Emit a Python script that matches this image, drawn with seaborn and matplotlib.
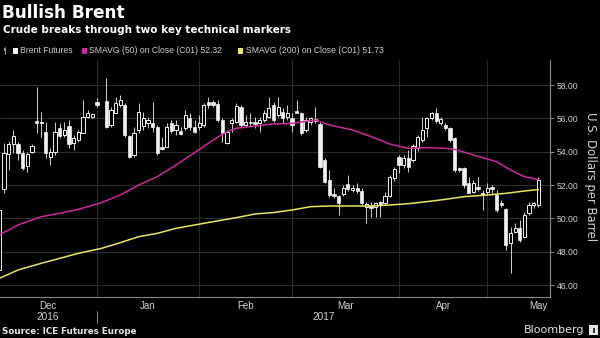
import numpy as np
import pandas as pd
import matplotlib
matplotlib.use("Agg")
import matplotlib.pyplot as plt
from matplotlib import font_manager
from matplotlib.patches import Rectangle
from matplotlib.transforms import blended_transform_factory
import seaborn as sns

nan = np.nan

# Daily ICE Brent futures sessions (session 22 is the New Year holiday, no trading)
open_px = [46.9, 51.74, 53.86, 54.46, 54.46, 53.94, 53.14, 54.0, 55.86, 55.7,
           55.2, 53.7, 54.0, 55.4, 55.0, 55.54, 54.5, 54.7, 55.14, 56.1,
           56.06, 56.98, nan, 57.06, 55.6, 56.34, 56.8, 56.8, 54.94, 53.8,
           55.3, 55.54, 55.7, 55.74, 55.5, 54.3, 54.3, 55.7, 55.3, 55.26,
           55.4, 56.0, 55.46, 55.46, 55.6, 56.96, 56.96, 56.84, 55.9, 54.5,
           55.7, 55.8, 56.7, 55.6, 55.8, 55.8, 55.74, 55.9, 56.1, 56.8,
           56.2, 56.4, 56.1, 56.04, 56.46, 56.34, 55.3, 55.8, 55.94, 55.66,
           53.5, 52.3, 51.46, 51.34, 51.46, 52.06, 51.7, 51.8, 51.66, 50.66,
           50.74, 50.7, 51.0, 50.9, 51.34, 52.4, 53.66, 53.2, 53.6, 53.5,
           54.2, 54.7, 55.4, 56.0, 56.3, 55.74, 55.6, 55.4, 54.8, 53.0,
           53.0, 52.1, 51.6, 51.86, 51.46, 51.6, 51.9, 51.4, 50.94, 50.54,
           48.5, 49.2, 49.4, 48.9, 50.3, 50.8, 50.8]
high_px = [50.6, 54.5, 54.66, 55.3, 54.6, 54.1, 54.0, 54.46, 57.9, 56.4,
           55.8, 54.2, 55.8, 55.7, 55.8, 55.9, 55.0, 55.3, 57.1, 56.5,
           56.34, 57.2, nan, 58.4, 56.7, 57.3, 57.4, 56.9, 55.0, 55.5,
           56.9, 56.4, 56.1, 57.0, 55.6, 54.9, 55.7, 55.9, 55.9, 55.5,
           56.5, 56.3, 55.9, 56.2, 56.9, 57.3, 57.1, 57.1, 56.0, 55.3,
           56.04, 56.9, 56.8, 56.2, 56.3, 56.1, 56.1, 56.5, 57.3, 57.0,
           57.3, 56.6, 56.8, 56.3, 57.1, 56.4, 56.1, 56.1, 56.7, 55.8,
           53.6, 52.9, 51.8, 51.4, 52.0, 52.6, 52.0, 52.1, 51.8, 51.0,
           51.0, 51.0, 51.06, 51.6, 52.6, 53.1, 53.8, 53.8, 54.1, 54.46,
           55.0, 56.1, 56.1, 56.4, 56.6, 56.1, 55.7, 55.5, 54.9, 53.1,
           53.1, 52.5, 52.3, 52.46, 51.7, 52.1, 52.0, 51.7, 51.1, 50.6,
           49.5, 49.7, 49.9, 50.4, 51.0, 51.0, 52.5]
low_px = [46.6, 51.5, 52.9, 53.9, 53.5, 52.9, 52.8, 53.9, 55.1, 54.9,
          53.6, 53.2, 53.8, 54.8, 54.9, 54.2, 54.1, 54.6, 55.1, 56.0,
          56.0, 56.7, nan, 55.4, 55.5, 56.3, 56.7, 54.9, 53.6, 53.7,
          55.1, 55.3, 55.4, 55.2, 53.8, 54.1, 54.26, 55.1, 55.0, 55.0,
          55.3, 55.3, 55.1, 55.3, 55.5, 56.6, 56.7, 55.8, 54.6, 54.46,
          55.2, 55.7, 55.5, 55.46, 55.54, 55.4, 55.2, 55.8, 56.0, 55.8,
          56.1, 55.7, 55.9, 55.2, 56.3, 55.0, 55.2, 55.6, 55.7, 53.0,
          52.1, 51.3, 51.2, 50.2, 51.34, 51.66, 51.6, 51.54, 50.8, 49.7,
          50.1, 50.1, 50.1, 50.8, 51.26, 52.26, 52.7, 53.0, 52.8, 53.4,
          54.06, 54.6, 54.9, 55.9, 55.7, 55.6, 55.3, 54.6, 52.8, 52.8,
          51.8, 51.5, 51.5, 51.66, 50.5, 51.4, 51.4, 50.4, 50.7, 48.1,
          46.7, 49.1, 48.6, 48.8, 50.2, 50.6, 50.7]
close_px = [50.5, 53.94, 54.46, 54.94, 53.94, 53.0, 53.86, 54.34, 55.7, 55.8,
            53.9, 54.0, 55.2, 54.94, 55.3, 54.46, 54.8, 55.2, 56.1, 56.3,
            56.24, 56.82, nan, 55.46, 56.5, 56.94, 57.1, 55.0, 53.66, 55.1,
            56.4, 56.0, 55.9, 55.5, 53.9, 54.14, 55.5, 55.24, 55.6, 55.06,
            56.2, 55.5, 55.2, 55.74, 56.8, 56.8, 56.8, 55.9, 55.1, 55.2,
            55.9, 56.74, 55.6, 55.8, 55.7, 55.66, 55.9, 56.3, 56.6, 55.9,
            56.7, 56.0, 56.34, 55.6, 56.34, 55.1, 55.9, 56.0, 55.86, 53.1,
            52.2, 51.4, 51.34, 50.9, 51.8, 51.74, 51.8, 51.66, 50.9, 50.86,
            50.6, 50.9, 50.8, 51.34, 52.46, 52.94, 53.2, 53.6, 53.1, 54.34,
            54.9, 55.3, 56.0, 56.3, 55.86, 55.94, 55.4, 54.7, 52.9, 52.9,
            52.0, 51.54, 52.1, 51.74, 51.54, 51.8, 51.74, 50.5, 50.8, 48.4,
            49.1, 49.4, 48.7, 50.2, 50.8, 50.9, 52.32]

# Simple moving averages on close, sampled along the session axis
sma50_session = [0, 4, 9, 13, 17, 22, 26, 30, 34, 38, 42, 46, 49, 51, 55, 59,
                 63, 68, 71, 76, 80, 84, 88, 92, 96, 98, 102, 107, 110, 113, 116]
sma50_value = [49.0, 49.6, 50.1, 50.3, 50.54, 50.94, 51.4, 52.0, 52.5, 53.2,
               53.94, 54.7, 55.2, 55.4, 55.54, 55.66, 55.7, 55.9, 55.6, 55.3,
               54.9, 54.46, 54.2, 54.24, 54.2, 54.14, 53.8, 53.4, 52.9, 52.5, 52.32]
sma200_session = [0, 4, 9, 13, 17, 22, 26, 30, 34, 38, 42, 46, 51, 55, 59, 63,
                  67, 71, 76, 80, 84, 88, 92, 96, 100, 105, 109, 113, 116]
sma200_value = [46.4, 46.9, 47.3, 47.6, 47.9, 48.2, 48.54, 48.9, 49.1, 49.4,
                49.6, 49.8, 50.04, 50.26, 50.35, 50.5, 50.7, 50.74, 50.74, 50.74,
                50.8, 50.88, 51.0, 51.14, 51.3, 51.4, 51.5, 51.64, 51.73]

month_edges = [0, 21, 43, 63, 86, 105, 127]
month_labels = ["Dec", "Jan", "Feb", "Mar", "Apr", "May"]
year_labels = ["2016", "2017"]
price_ticks = [46, 48, 50, 52, 54, 56, 58]

BG = "black"
CANDLE = "#f2f2f2"
WICK = "#c8c8c8"
MAGENTA = "#cc2a9c"
YELLOW = "#e9e65a"
GRID = "#2c2c2c"
SPINE = "#8a8a8a"
TEXT = "#e6e6e6"
LABEL = "#d2d2d2"

sns.set_style("dark", {"axes.facecolor": BG, "figure.facecolor": BG,
                       "grid.color": GRID, "axes.edgecolor": SPINE})
plt.rcParams["font.family"] = ["DejaVu Sans"]

# Narrow face for axis and legend text; fall back to Liberation Sans at a
# smaller size if the narrow cut is not present.
installed = {f.name for f in font_manager.fontManager.ttflist}
if "Liberation Sans Narrow" in installed:
    NARROW, k = ["Liberation Sans Narrow", "DejaVu Sans"], 1.0
else:
    NARROW, k = ["Liberation Sans", "DejaVu Sans"], 0.82

fig = plt.figure(figsize=(6.0, 3.38), dpi=100)
fig.patch.set_facecolor(BG)
ax = fig.add_axes([0.0, 41 / 338, 550 / 600, 237 / 338])
ax.set_facecolor(BG)

ohlc = pd.DataFrame({"session": np.arange(len(open_px)), "open": open_px,
                     "high": high_px, "low": low_px, "close": close_px}).dropna()
rising = ohlc["close"] >= ohlc["open"]
up = ohlc[rising]
down = ohlc[~rising]

# wicks, then hollow (rising) and solid (falling) bodies on top
ax.vlines(ohlc["session"], ohlc["low"], ohlc["high"], color=WICK, lw=0.75, zorder=2)
ax.bar(down["session"], down["open"] - down["close"], bottom=down["close"],
       width=0.7, color=CANDLE, edgecolor=CANDLE, lw=0.5, zorder=3)
ax.bar(up["session"], up["close"] - up["open"], bottom=up["open"],
       width=0.7, color=BG, edgecolor=CANDLE, lw=0.7, zorder=3)

sma = pd.concat([
    pd.DataFrame({"session": sma50_session, "value": sma50_value, "line": "SMA50"}),
    pd.DataFrame({"session": sma200_session, "value": sma200_value, "line": "SMA200"}),
])
sns.lineplot(data=sma, x="session", y="value", hue="line",
             palette={"SMA50": MAGENTA, "SMA200": YELLOW}, lw=1.1,
             legend=False, ax=ax, zorder=4)

ax.set_xlim(0.14, 118.5)
ax.set_ylim(45.28, 59.5)
ax.set_xlabel("")
ax.set_ylabel("")

# price axis on the right
ax.yaxis.tick_right()
ax.set_yticks(price_ticks)
ax.set_yticklabels([f"{v:.2f}" for v in price_ticks], family=NARROW,
                   fontsize=7.6 * k, color=LABEL)
ax.tick_params(axis="y", which="major", length=3, width=0.7, color=SPINE,
               pad=2, left=False, right=True)
ax.yaxis.grid(True, color=GRID, lw=0.8)

# month axis: boundaries as gridlines, labels centred in each month
inner_edges = month_edges[1:-1]
mids = [(a + b) / 2 for a, b in zip(month_edges[:-1], month_edges[1:])]
ax.set_xticks(mids)
ax.set_xticklabels(month_labels, family=NARROW, fontsize=8.6 * k, color=LABEL)
ax.set_xticks(inner_edges, minor=True)
ax.tick_params(axis="x", which="major", length=0, pad=3)
ax.tick_params(axis="x", which="minor", length=3, width=0.7, color=SPINE)
ax.xaxis.grid(False, which="major")
ax.xaxis.grid(True, which="minor", color=GRID, lw=0.8)

for side in ["left", "top"]:
    ax.spines[side].set_visible(False)
for side in ["right", "bottom"]:
    ax.spines[side].set_visible(True)
    ax.spines[side].set_color(SPINE)
    ax.spines[side].set_linewidth(0.8)

# year row under the months
trans = blended_transform_factory(ax.transData, fig.transFigure)
year_pos = [(month_edges[0] + month_edges[1]) / 2, (month_edges[1] + 118.5) / 2]
for label, xpos in zip(year_labels, year_pos):
    ax.text(xpos, 1 - 317.5 / 338, label, transform=trans, ha="center",
            va="center", family=NARROW, fontsize=8.8 * k, color=LABEL)
ax.plot([month_edges[1], month_edges[1]], [1 - 311 / 338, 1 - 323 / 338],
        transform=trans, color=SPINE, lw=0.7, clip_on=False)

fig.text(591 / 600, 1 - 177 / 338, "U.S. Dollars per Barrel", rotation=270,
         ha="center", va="center", fontsize=8.4, color=LABEL)

# headline
fig.text(2 / 600, 1 - 17.7 / 338, "Bullish Brent", fontsize=12.2, weight="bold",
         color="white", va="baseline")
fig.text(3 / 600, 1 - 33.3 / 338, "Crude breaks through two key technical markers",
         fontsize=7.5, weight="bold", color="white", va="baseline")

# legend row
ly = 1 - 50.7 / 338
fig.add_artist(plt.Line2D([4.5 / 600, 4.5 / 600], [1 - 47 / 338, 1 - 54 / 338],
                          color="#9a9a9a", lw=0.7))
fig.add_artist(Rectangle((3.5 / 600, 1 - 51 / 338), 2 / 600, 3 / 338,
                         facecolor="#9a9a9a", edgecolor="none"))
legend_items = [
    (12.5, CANDLE, "Brent Futures"),
    (81.5, MAGENTA, f"SMAVG (50) on Close (C01) {sma50_value[-1]:.2f}"),
    (238.0, YELLOW, f"SMAVG (200) on Close (C01) {sma200_value[-1]:.2f}"),
]
for x0, col, label in legend_items:
    fig.add_artist(Rectangle((x0 / 600, 1 - 53.5 / 338), 5 / 600, 5.5 / 338,
                             facecolor=col, edgecolor="none"))
    fig.text((x0 + 7.5) / 600, ly, label, family=NARROW, fontsize=7.6 * k,
             color="#cfcfcf", va="center")

# footer
fig.text(2 / 600, 1 - 331.5 / 338, "Source: ICE Futures Europe", fontsize=6.3,
         weight="bold", color=TEXT, va="center")
fig.text(584 / 600, 1 - 330 / 338, "Bloomberg", fontsize=8, color=TEXT,
         ha="right", va="center")
fig.add_artist(Rectangle((589 / 600, 1 - 335 / 338), 9 / 600, 10 / 338,
                         facecolor="#e6e6e6", edgecolor="none"))
fig.add_artist(Rectangle((592.5 / 600, 1 - 333 / 338), 2 / 600, 5 / 338,
                         facecolor="#333333", edgecolor="none"))

fig.savefig("out.png", dpi=100, facecolor=BG)
